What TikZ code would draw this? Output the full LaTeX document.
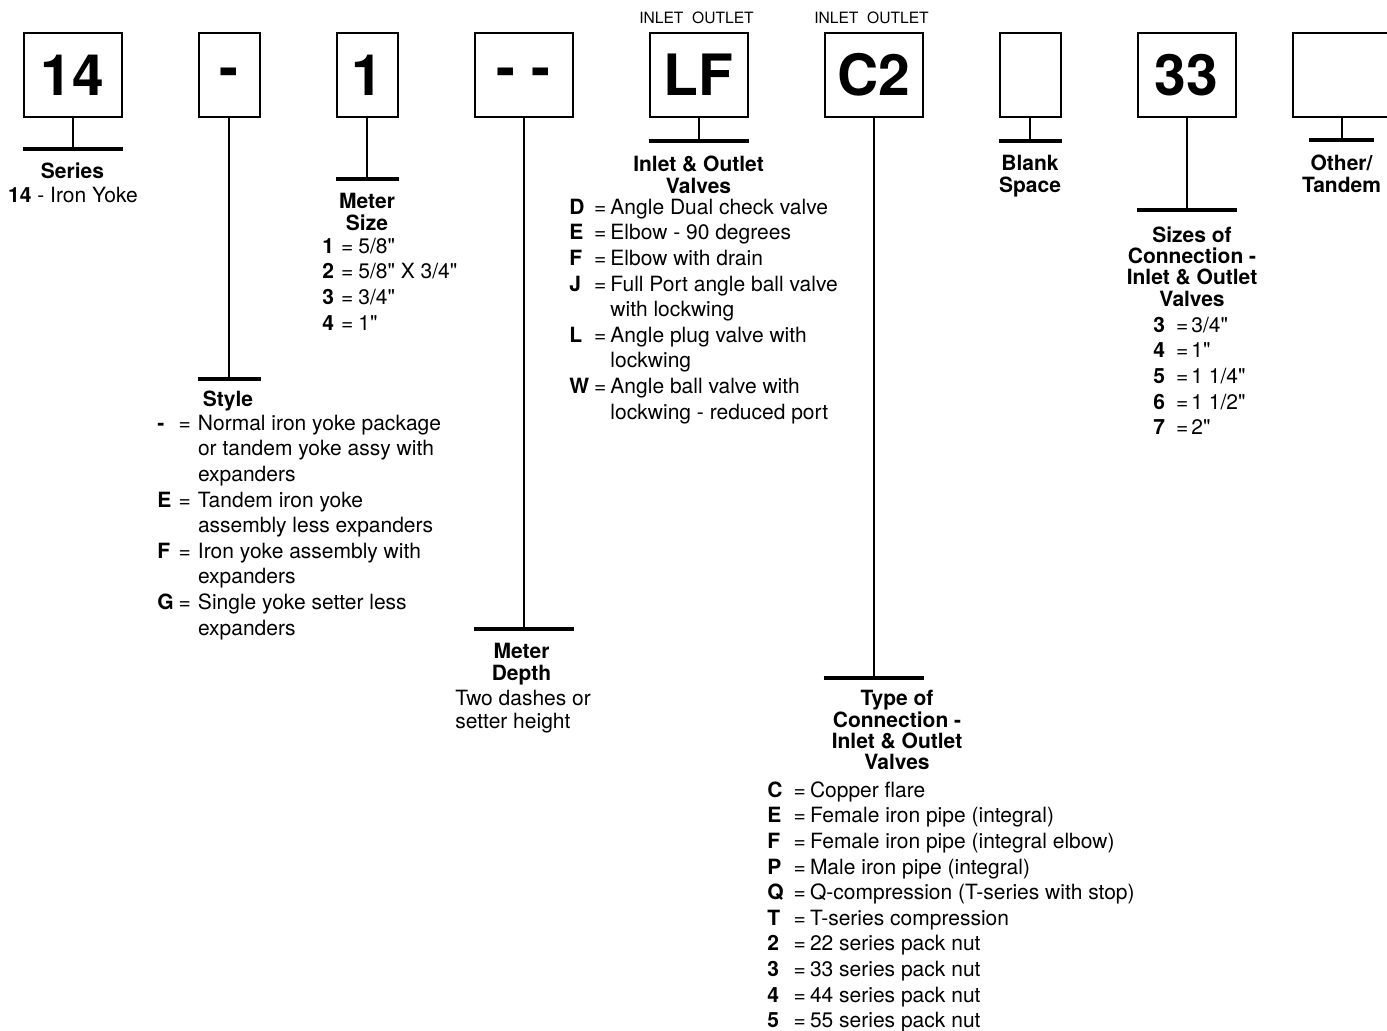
\documentclass[tikz,border=0pt]{standalone}
\usepackage{fontspec}
\setmainfont{TeX Gyre Heros}
\usepackage{tikz}
\usetikzlibrary{positioning}
\newcommand{\inchmark}{\XeTeXglyph\XeTeXcharglyph"22\relax}

\begin{document}
\begin{tikzpicture}[
    x=0.5pt, y=-0.5pt,
    node distance=37.5pt,
    codebox/.style={rectangle, draw=black, line width=1pt, minimum height=42pt,
                    inner sep=0pt, font=\fontsize{28.5}{28.5}\selectfont\bfseries},
    widebox/.style={codebox, minimum width=49pt},
    slimbox/.style={codebox, minimum width=30.5pt},
    stem/.style={line width=1pt},
    tbar/.style={line width=2.3pt},
    head/.style={align=center, inner sep=0pt,
                 font=\fontsize{10.5}{10.67}\selectfont\bfseries},
    legend/.style={anchor=north west, inner sep=0pt, align=left,
                   font=\fontsize{10.5}{12.8}\selectfont},
    tag/.style={inner sep=0pt, font=\fontsize{7.8}{8}\selectfont},
]
\useasboundingbox (0,0) rectangle (1387,1030);
\clip (0,0) rectangle (1387,1030);

% code boxes
\node[widebox] (series) at (72.5,75) {14};
\node[slimbox, right=of series] (style) {\raisebox{-6pt}[0pt][0pt]{-}};
\node[slimbox, right=of style] (msize) {1};
\node[widebox, right=of msize] (mdepth) {\raisebox{-6pt}[0pt][0pt]{- -}};
\node[widebox, right=of mdepth] (valves) {LF};
\node[widebox, right=of valves] (conn) {C2};
\node[slimbox, right=of conn] (blank) {};
\node[widebox, right=of blank] (sizes) {33};
\node[widebox, right=27.5pt of sizes] (other) {};

\node[tag, above=4pt of valves, xshift=-1pt] (valvestag) {INLET~~OUTLET};
\node[tag, above=4pt of conn, xshift=-1pt] (conntag) {INLET~~OUTLET};

% stems and bars
\foreach \n/\y in {series/149, style/379, msize/179, mdepth/629,
                   valves/141, conn/678, blank/141, sizes/210}{
  \coordinate (\n-bar) at (\n.south |- 0,\y);
  \draw[stem] (\n.south) -- (\n-bar);
  \draw[tbar] (\n.west |- \n-bar) -- (\n.east |- \n-bar);
}
\coordinate (other-bar) at (other.south |- 0,140);
\draw[stem] (other.south) -- (other-bar);
\draw[tbar] ([xshift=-16.25pt]other-bar) -- ([xshift=16.25pt]other-bar);

% headings
\node[head, below=6.5pt of series-bar] (serhead) {Series};
\node[head, below=6pt of style-bar, xshift=-0.5pt] (stylehead) {Style};
\node[head, below=7pt of msize-bar] (msizehead) {Meter\\Size};
\node[head, below=7pt of mdepth-bar, xshift=-1pt] (mdepthhead) {Meter\\Depth};
\node[head, below=7.5pt of valves-bar] (valveshead) {Inlet \& Outlet\\Valves};
\node[head, below=6pt of conn-bar, xshift=11.75pt] (connhead)
  {Type of\\Connection -\\Inlet \& Outlet\\Valves};
\node[head, below=7pt of blank-bar] (blankhead) {Blank\\Space};
\node[head, below=8pt of sizes-bar, xshift=2.75pt] (sizeshead)
  {Sizes of\\Connection -\\Inlet \& Outlet\\Valves};
\node[head, below=7.5pt of other-bar] (otherhead) {Other/\\Tandem};

% legends
\node[legend, anchor=north] (serdesc) at (73,187) {\textbf{14} - Iron Yoke};

\node[legend] (stylelist) at (157,412) {%
\begin{tabular}{@{}l@{\hspace{2.5pt}}l@{\hspace{3.5pt}}l@{}}
\textbf{-} & = & Normal iron yoke package\\
 & & or tandem yoke assy with\\
 & & expanders\\
\textbf{E} & = & Tandem iron yoke\\
 & & assembly less expanders\\
\textbf{F} & = & Iron yoke assembly with\\
 & & expanders\\
\textbf{G} & = & Single yoke setter less\\
 & & expanders
\end{tabular}};

\node[legend] (msizelist) at (322,235) {%
\begin{tabular}{@{}l@{\hspace{3.5pt}}l@{\hspace{2.5pt}}l@{}}
\textbf{1} & = & 5/8\inchmark\\
\textbf{2} & = & 5/8\inchmark{} X 3/4\inchmark\\
\textbf{3} & = & 3/4\inchmark\\
\textbf{4} & = & 1\inchmark
\end{tabular}};

\node[legend, font=\fontsize{10.5}{11.5}\selectfont] (mdepthdesc) at (455,690)
  {Two dashes or\\setter height};

\node[legend] (valveslist) at (569,196) {%
\begin{tabular}{@{}l@{\hspace{2.5pt}}l@{\hspace{2pt}}l@{}}
\textbf{D} & = & Angle Dual check valve\\
\textbf{E} & = & Elbow - 90 degrees\\
\textbf{F} & = & Elbow with drain\\
\textbf{J} & = & Full Port angle ball valve\\
 & & with lockwing\\
\textbf{L} & = & Angle plug valve with\\
 & & lockwing\\
\textbf{W} & = & Angle ball valve with\\
 & & lockwing - reduced port
\end{tabular}};

\node[legend] (connlist) at (767,779) {%
\begin{tabular}{@{}l@{\hspace{5pt}}l@{\hspace{2pt}}l@{}}
\textbf{C} & = & Copper flare\\
\textbf{E} & = & Female iron pipe (integral)\\
\textbf{F} & = & Female iron pipe (integral elbow)\\
\textbf{P} & = & Male iron pipe (integral)\\
\textbf{Q} & = & Q-compression (T-series with stop)\\
\textbf{T} & = & T-series compression\\
\textbf{2} & = & 22 series pack nut\\
\textbf{3} & = & 33 series pack nut\\
\textbf{4} & = & 44 series pack nut\\
\textbf{5} & = & 55 series pack nut
\end{tabular}};

\node[legend] (sizeslist) at (1153,314) {%
\begin{tabular}{@{}l@{\hspace{5.5pt}}l@{\hspace{1.5pt}}l@{}}
\textbf{3} & = & 3/4\inchmark\\
\textbf{4} & = & 1\inchmark\\
\textbf{5} & = & 1 1/4\inchmark\\
\textbf{6} & = & 1 1/2\inchmark\\
\textbf{7} & = & 2\inchmark
\end{tabular}};
\end{tikzpicture}
\end{document}
